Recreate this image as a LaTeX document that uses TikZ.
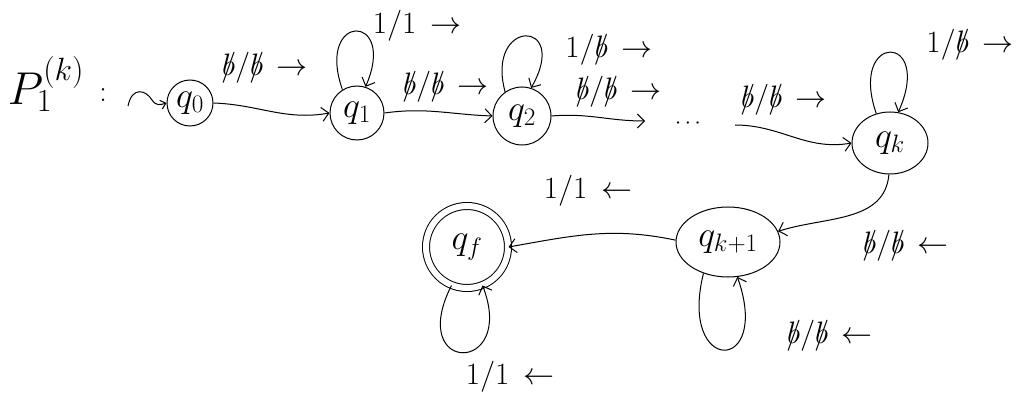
\RequirePackage{fix-cm}
\documentclass[tikz,border=0pt]{standalone}
\usetikzlibrary{arrows.meta,shapes.geometric}
% the blank tape symbol: a b struck through by a slash
\newcommand{\blk}{\ooalign{$b$\cr\hidewidth$/$\hidewidth\cr}}
\begin{document}
\begin{tikzpicture}[x=1pt,y=-1pt,
  state/.style={draw,circle,line width=1pt,inner sep=0pt,font=\fontsize{36}{38}\selectfont},
  ostate/.style={draw,ellipse,line width=1pt,inner sep=0pt,font=\fontsize{36}{38}\selectfont},
  edge/.style={line width=1pt,-{Straight Barb[length=7pt,width=14pt]}},
  lbl/.style={font=\fontsize{31}{33}\selectfont,inner sep=0pt}]
\useasboundingbox (0,0) rectangle (1023,406);

% title
\node[font=\fontsize{46}{48}\selectfont,inner sep=0pt] (title) at (46,84) {$P_1^{(k)}$};
\node[font=\fontsize{30}{32}\selectfont,inner sep=0pt] (colon) at (103,95) {$:$};

% states
\node[state,minimum size=46pt] (q0) at (190,103) {$q_0$};
\node[state,minimum size=54pt] (q1) at (357,113) {$q_1$};
\node[state,minimum size=58pt] (q2) at (522,116) {$q_2$};
\node[ostate,minimum width=76pt,minimum height=62pt] (qk) at (890,143) {$q_k$};
\node[ostate,minimum width=104pt,minimum height=70pt] (qk1) at (728,242) {$q_{k+1}$};
\node[state,minimum size=82pt,double,double distance=6pt] (qf) at (467,247) {$q_f$};

% start arrow
\coordinate (s) at (128,106);
\draw[edge,-{Straight Barb[length=5pt,width=9pt]}] (s) .. controls (132,86) and (146,90) .. (152,100)
  .. controls (156,106) and (160,105) .. (q0.west);

% forward chain
\draw[edge] (q0.east) to[out=-2,in=190] (q1.west);
\node[lbl] (l01) at (265,68) {$\blk/\blk\,\rightarrow$};

\draw[edge] (q1.122) .. controls (315,12) and (398,12) .. (q1.72);
\node[lbl] (l11) at (417,26) {$1/1\,\rightarrow$};

\draw[edge] (q1.east) to[out=8,in=178] (q2.west);
\node[lbl] (l12) at (446,87) {$\blk/\blk\,\rightarrow$};

\draw[edge] (q2.125) .. controls (485,18) and (571,18) .. (q2.72);
\node[lbl] (l22) at (609,50) {$1/\blk\,\rightarrow$};

\coordinate (d1) at (645,121);
\draw[edge] (q2.east) to[out=5,in=180] (d1);
\node[lbl] (l2d) at (619,92) {$\blk/\blk\,\rightarrow$};
\node[font=\fontsize{22}{22}\selectfont,inner sep=0pt] (dots) at (688,124) {$\cdots$};

\coordinate (d2) at (735,125);
\draw[edge] (d2) to[out=0,in=190] (qk.west);
\node[lbl] (ldk) at (784,100) {$\blk/\blk\,\rightarrow$};

\draw[edge] (qk.115) .. controls (848,32) and (934,32) .. (qk.75);
\node[lbl] (lkk) at (970,45) {$1/\blk\,\rightarrow$};

% return part
\draw[edge] (qk.-92) to[out=-95,in=18] (qk1.12);
\node[lbl] (lk1) at (906,246) {$\blk/\blk\,\leftarrow$};

\draw[edge] (qk1.-128) .. controls (678,375) and (772,375) .. (qk1.-75);
\node[lbl] (lk11) at (830,336) {$\blk/\blk\,\leftarrow$};

\draw[edge] (qk1.178) to[out=168,in=10] (qf.east);
\node[lbl] (l1f) at (588,191) {$1/1\,\leftarrow$};

\draw[edge] (qf.-112) .. controls (406,375) and (517,375) .. (qf.-68);
\node[lbl] (lff) at (510,377) {$1/1\,\leftarrow$};
\end{tikzpicture}
\end{document}
